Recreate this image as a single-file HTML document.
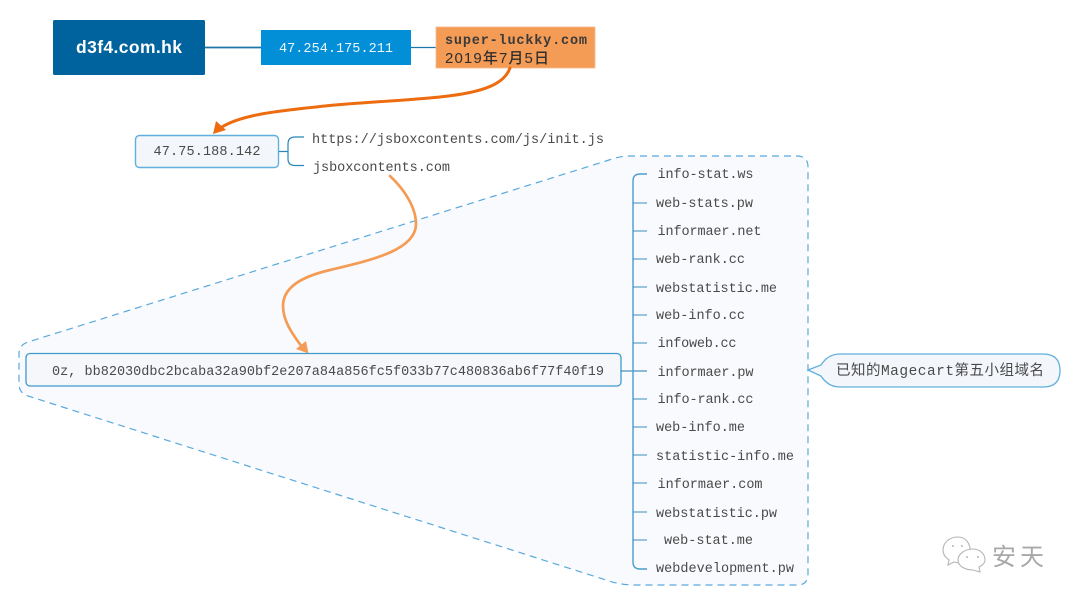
<!DOCTYPE html>
<html><head><meta charset="utf-8">
<style>
html,body{margin:0;padding:0;background:#fff;width:1080px;height:604px;overflow:hidden}
svg{display:block}
text{font-family:"Liberation Mono","Noto Sans CJK SC",monospace;font-size:13.5px;fill:#4a4a4a;}
</style></head><body>
<svg width="1080" height="604" viewBox="0 0 1080 604" xmlns="http://www.w3.org/2000/svg">
<!-- boundary -->
<path d="M628 156 H797 Q808 156 808 167 V574 Q808 585 797 585 H634 Q620 585 606 580 L28 396 Q19 393 19 384 V354 Q19 345 28 342 L606 161 Q620 156 628 156 Z" fill="#f9fafd" stroke="#5aa9dc" stroke-width="1.2" stroke-dasharray="7 5"/>
<!-- top row -->
<line x1="204" y1="47.5" x2="262" y2="47.5" stroke="#1f77a8" stroke-width="1.8"/>
<line x1="411" y1="47.5" x2="437" y2="47.5" stroke="#1f77a8" stroke-width="1.2"/>
<rect x="53" y="20" width="152" height="55" rx="1.5" fill="#00639e"/>
<text x="129" y="53" text-anchor="middle" style="font-family:'Liberation Sans',sans-serif;font-size:17.5px;font-weight:700;fill:#fff" textLength="106">d3f4.com.hk</text>
<rect x="261" y="30" width="150" height="35" fill="#028fd7"/>
<text x="336" y="52" text-anchor="middle" style="fill:#eaf5fc" textLength="114">47.254.175.211</text>
<rect x="436" y="27" width="159" height="41" fill="#f49b55" stroke="#f9b98a" stroke-width="0.8"/>
<text x="445" y="44" style="fill:#3a3a3a;font-weight:700" textLength="142">super-luckky.com</text>
<text x="445" y="63" style="fill:#2e2e2e;font-size:15px;font-weight:500;font-family:'Liberation Sans','Noto Sans CJK SC',sans-serif" textLength="104">2019年7月5日</text>
<!-- orange arrow 1 -->
<path d="M510 68 C 499 99 432 97 335 105 C 275 111 238 115 219 129" fill="none" stroke="#ec6c0f" stroke-width="3" stroke-linecap="round"/>
<polygon points="213,134 216,121 226,130" fill="#ec6c0f"/>
<!-- node 47.75 -->
<rect x="135.5" y="135.5" width="143" height="32" rx="4" fill="#f3f6fb" stroke="#5fb0dc" stroke-width="1.4"/>
<text x="207" y="155" text-anchor="middle" textLength="107">47.75.188.142</text>
<path d="M279 151.5 H288 M304 137 H295 Q288 137 288 144 V159 Q288 165.500 295 165.500 H304" fill="none" stroke="#2a85b8" stroke-width="1.2"/>
<text x="312" y="143" textLength="292">https://jsboxcontents.com/js/init.js</text>
<text x="313" y="171" textLength="137">jsboxcontents.com</text>
<!-- orange arrow 2 -->
<path d="M390 176 C 405 190 416 208 416 224 C 416 250 372 260 330 270 C 300 277 283 288 283 306 C 283 322 294 336 302 347" fill="none" stroke="#f49b55" stroke-width="2.7" stroke-linecap="round"/>
<polygon points="308.500,353.500 296,349 306,341" fill="#f49b55"/>
<!-- hash node -->
<rect x="26" y="353.500" width="595" height="32.500" rx="4" fill="#f5f7fb" stroke="#3f9ad0" stroke-width="1.3"/>
<text x="52" y="375" textLength="552">0z, bb82030dbc2bcaba32a90bf2e207a84a856fc5f033b77c480836ab6f77f40f19</text>
<!-- tree -->
<path d="M621 371 H647" stroke="#1f77a8" stroke-width="1" fill="none"/>
<path d="M647 174 H640 Q633 174 633 181 V562 Q633 569 640 569 H647" fill="none" stroke="#4a9ccb" stroke-width="1.4"/>
<path d="M633 203 H647 M633 231 H647 M633 259 H647 M633 287 H647 M633 315 H647 M633 343 H647 M633 399 H647 M633 427 H647 M633 455 H647 M633 483 H647 M633 512 H647 M633 540 H647" fill="none" stroke="#3c8fc0" stroke-width="1.1"/>
<text x="657.500" y="178" textLength="96">info-stat.ws</text>
<text x="656" y="207" textLength="97">web-stats.pw</text>
<text x="657.500" y="235" textLength="104">informaer.net</text>
<text x="656" y="263" textLength="89">web-rank.cc</text>
<text x="656" y="292" textLength="121">webstatistic.me</text>
<text x="656" y="319" textLength="89">web-info.cc</text>
<text x="657.500" y="347" textLength="79">infoweb.cc</text>
<text x="657.500" y="376" textLength="96">informaer.pw</text>
<text x="657.500" y="403" textLength="96">info-rank.cc</text>
<text x="656" y="431" textLength="89">web-info.me</text>
<text x="656" y="460" textLength="138">statistic-info.me</text>
<text x="657.500" y="488" textLength="105">informaer.com</text>
<text x="656" y="517" textLength="121">webstatistic.pw</text>
<text x="664" y="544" textLength="89">web-stat.me</text>
<text x="656" y="572" textLength="138">webdevelopment.pw</text>
<!-- callout -->
<path d="M808 370 L821 365 Q828 354 840 354 H1043 Q1060 354 1060 370.500 Q1060 387 1043 387 H840 Q828 387 821 376 Z" fill="#f3f6fb" stroke="#5fb0dc" stroke-width="1.3"/>
<text x="836" y="375" style="font-size:14.500px;font-family:'Liberation Mono','Noto Sans CJK SC',monospace" textLength="208">已知的Magecart第五小组域名</text>
<!-- watermark -->
<g fill="#fff" stroke="#b5b5b5" stroke-width="1.1">
<path d="M958 537 C 949 537 943 543 943 550 C 943 555 946 558 949 560 L948 565 L954 562 C 958 563 962 563 965 562 C 973 560 973 537 958 537 Z"/>
<path d="M973 549 C 965 549 958 554 958 560 C 958 566 965 570 973 570 L980 572 L979 567 C 983 565 985 563 985 560 C 985 554 980 549 973 549 Z"/>
</g>
<g fill="#b5b5b5"><circle cx="953" cy="546" r="1"/><circle cx="962" cy="546" r="1"/><circle cx="967" cy="557" r="1"/><circle cx="978" cy="557" r="1"/></g>
<text x="992" y="565" style="font-size:24px;font-family:'Noto Sans CJK SC',sans-serif;fill:#a8a8a8" textLength="52">安天</text>
</svg>
</body></html>
